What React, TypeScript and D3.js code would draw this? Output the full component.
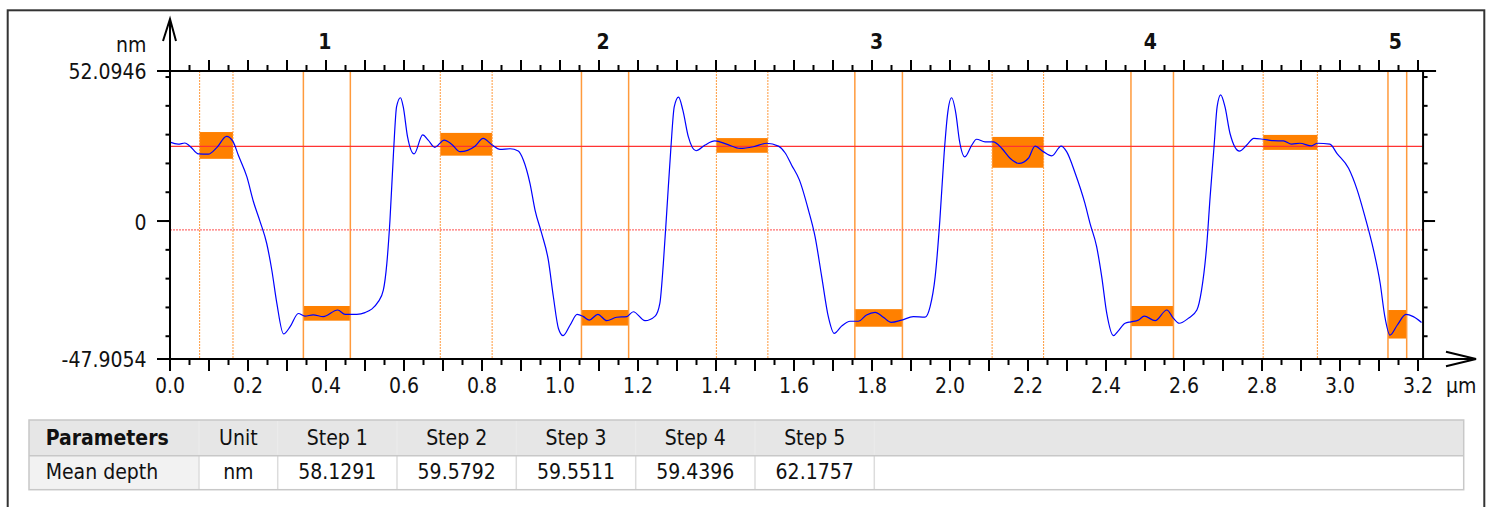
import React, { useEffect, useRef } from 'react';
import * as d3 from 'd3';

// profile (x in µm, height in nm)
const profileX = [
  0.000, 0.021, 0.038, 0.051, 0.073, 0.098, 0.120, 0.145, 0.162, 0.175, 0.197, 0.214, 0.231, 0.248, 0.261, 0.274,
  0.291, 0.308, 0.329, 0.346, 0.367, 0.393, 0.430, 0.449, 0.479, 0.500, 0.534, 0.547, 0.556, 0.564, 0.573, 0.581,
  0.591, 0.598, 0.609, 0.626, 0.648, 0.662, 0.679, 0.703, 0.722, 0.744, 0.782, 0.803, 0.826, 0.846, 0.872, 0.893,
  0.906, 0.923, 0.936, 0.953, 0.970, 0.983, 0.996, 1.008, 1.026, 1.044, 1.060, 1.075, 1.097, 1.120, 1.145, 1.171,
  1.188, 1.218, 1.244, 1.256, 1.265, 1.274, 1.284, 1.293, 1.304, 1.315, 1.329, 1.349, 1.372, 1.397, 1.427, 1.462,
  1.496, 1.530, 1.560, 1.577, 1.594, 1.614, 1.637, 1.654, 1.671, 1.688, 1.703, 1.722, 1.744, 1.765, 1.786, 1.808,
  1.829, 1.849, 1.876, 1.906, 1.936, 1.949, 1.962, 1.974, 1.985, 1.994, 2.004, 2.015, 2.024, 2.038, 2.056, 2.068,
  2.090, 2.111, 2.133, 2.154, 2.177, 2.201, 2.218, 2.239, 2.261, 2.285, 2.299, 2.321, 2.346, 2.359, 2.376, 2.389,
  2.402, 2.419, 2.431, 2.449, 2.464, 2.483, 2.498, 2.526, 2.556, 2.573, 2.588, 2.611, 2.633, 2.645, 2.658, 2.667,
  2.677, 2.685, 2.694, 2.705, 2.718, 2.742, 2.761, 2.779, 2.803, 2.829, 2.855, 2.876, 2.897, 2.927, 2.942, 2.974,
  2.992, 3.022, 3.044, 3.064, 3.085, 3.103, 3.115, 3.128, 3.147, 3.169, 3.188, 3.209,
];
const profileY = [
  27.4, 26.7, 27.1, 26.0, 23.3, 23.2, 25.5, 29.4, 27.5, 22.9, 15.4, 6.7, -0.2, -7.8, -17.0, -28.6,
  -39.2, -36.7, -32.1, -33.0, -32.6, -33.2, -30.9, -32.4, -32.4, -31.8, -28.0, -24.0, -14.7, 0.3, 23.5, 39.7,
  42.8, 39.7, 29.3, 23.3, 29.9, 28.1, 25.6, 28.1, 26.7, 24.1, 26.0, 28.7, 26.4, 24.9, 25.1, 24.3,
  21.2, 13.1, 3.8, -4.3, -13.5, -26.3, -37.3, -39.8, -36.1, -32.4, -33.2, -34.4, -32.4, -34.6, -33.4, -33.2,
  -31.5, -34.6, -33.0, -28.6, -14.7, 3.8, 24.7, 39.7, 43.0, 38.5, 29.3, 24.4, 26.4, 27.8, 26.7, 25.2,
  25.8, 27.0, 26.0, 23.7, 19.4, 14.2, 3.8, -5.4, -19.3, -33.2, -39.0, -36.5, -34.8, -34.8, -32.6, -31.7,
  -33.4, -35.2, -34.4, -33.2, -33.4, -29.7, -19.3, 0.3, 23.5, 37.4, 42.8, 37.4, 28.1, 22.3, 26.4, 28.4,
  27.5, 27.5, 25.2, 21.8, 20.0, 21.8, 26.0, 24.1, 22.6, 26.0, 24.1, 16.6, 6.1, -0.8, -8.9, -19.3,
  -32.1, -39.8, -38.2, -35.5, -35.0, -34.4, -33.0, -34.6, -30.9, -33.8, -35.5, -33.8, -30.9, -24.0, -8.9, 8.4,
  25.8, 39.7, 43.8, 39.7, 30.4, 24.3, 26.4, 28.7, 28.4, 27.9, 27.8, 26.7, 27.0, 26.1, 27.0, 26.7,
  23.5, 18.3, 10.8, 1.5, -9.5, -21.6, -33.2, -39.6, -36.1, -32.4, -33.2, -35.2,
];

// upper (plateau) and lower (trench) regions of each step
const plateauFrom = [0.076, 0.693, 1.401, 2.108, 2.803];
const plateauTo = [0.1615, 0.826, 1.533, 2.240, 2.942];
const plateauLow = [21.6, 22.7, 23.7, 18.5, 24.7];
const plateauHigh = [30.9, 30.6, 28.8, 29.2, 29.9];
const trenchFrom = [0.342, 1.055, 1.756, 2.464, 3.123];
const trenchTo = [0.4624, 1.176, 1.878, 2.573, 3.171];
const trenchLow = [-34.6, -36.3, -36.7, -36.5, -40.8];
const trenchHigh = [-29.5, -30.9, -30.6, -29.5, -30.9];
const stepNames = ['1', '2', '3', '4', '5'];

const refLevel = 25.9;
const midLevel = -3.1;
const yMin = -47.9054;
const yMax = 52.0946;
const profileLength = 3.213;
const xTickLabels = ['0.0', '0.2', '0.4', '0.6', '0.8', '1.0', '1.2', '1.4', '1.6', '1.8', '2.0', '2.2', '2.4', '2.6', '2.8', '3.0', '3.2'];

const tableHeaders = ['Parameters', 'Unit', 'Step 1', 'Step 2', 'Step 3', 'Step 4', 'Step 5'];
const meanDepthRow = ['Mean depth', 'nm', '58.1291', '59.5792', '59.5511', '59.4396', '62.1757'];

const FONT = '"DejaVu Sans Condensed", "Liberation Sans", Arial, sans-serif';
const ORANGE = '#ff8000';

const App: React.FC = () => {
  const svgRef = useRef<SVGSVGElement>(null);

  useEffect(() => {
    if (!svgRef.current) return;
    const svg = d3.select(svgRef.current);
    svg.selectAll('*').remove();

    const x = d3.scaleLinear().domain([0, 3.2]).range([170, 1418]);
    const y = d3.scaleLinear().domain([yMin, yMax]).range([359, 71]);
    const left = x(0);
    const right = x(profileLength);
    const top = y(yMax);
    const bottom = y(yMin);

    // outer frame
    svg.append('rect')
      .attr('x', 7.7).attr('y', 10.3)
      .attr('width', 1476.6).attr('height', 520)
      .attr('fill', 'white')
      .attr('stroke', '#333').attr('stroke-width', 2);

    const plot = svg.append('g');

    // step regions
    plateauFrom.forEach((x0, i) => {
      plot.append('rect')
        .attr('x', x(x0)).attr('y', y(plateauHigh[i]))
        .attr('width', x(plateauTo[i]) - x(x0))
        .attr('height', y(plateauLow[i]) - y(plateauHigh[i]))
        .attr('fill', ORANGE);
      plot.append('rect')
        .attr('x', x(trenchFrom[i])).attr('y', y(trenchHigh[i]))
        .attr('width', x(trenchTo[i]) - x(trenchFrom[i]))
        .attr('height', y(trenchLow[i]) - y(trenchHigh[i]))
        .attr('fill', ORANGE);
    });

    const vline = (v: number, dotted: boolean) =>
      plot.append('line')
        .attr('x1', x(v)).attr('x2', x(v))
        .attr('y1', top).attr('y2', bottom)
        .attr('stroke', '#ff9a3c')
        .attr('stroke-width', dotted ? 1 : 1.5)
        .attr('stroke-dasharray', dotted ? '2,1' : null);
    plateauFrom.forEach((v, i) => { vline(v, true); vline(plateauTo[i], true); });
    trenchFrom.forEach((v, i) => { vline(v, false); vline(trenchTo[i], false); });

    // reference levels
    plot.append('line')
      .attr('x1', left).attr('x2', right)
      .attr('y1', y(refLevel)).attr('y2', y(refLevel))
      .attr('stroke', '#ff3333').attr('stroke-width', 1.3);
    plot.append('line')
      .attr('x1', left).attr('x2', right)
      .attr('y1', y(midLevel)).attr('y2', y(midLevel))
      .attr('stroke', '#ff6f6f').attr('stroke-width', 1.2)
      .attr('stroke-dasharray', '2,1');

    // profile
    const line = d3.line<number>()
      .x((_, i) => x(profileX[i]))
      .y(d => y(d))
      .curve(d3.curveMonotoneX);
    plot.append('path')
      .attr('d', line(profileY))
      .attr('fill', 'none')
      .attr('stroke', '#0000ff')
      .attr('stroke-width', 1.2);

    // axes
    const axes = svg.append('g').attr('stroke', '#000').attr('stroke-width', 2).attr('fill', 'none');
    axes.append('line').attr('x1', left).attr('x2', left).attr('y1', bottom).attr('y2', 19);
    axes.append('path').attr('d', `M${left - 7},${41}L${left},${19}L${left + 6},${41}`);
    axes.append('line').attr('x1', 157).attr('x2', 1476).attr('y1', bottom).attr('y2', bottom);
    axes.append('path').attr('d', `M${1446},${351.7}L${1476},${bottom}L${1446},${366.3}`);
    axes.append('line').attr('x1', 157).attr('x2', right + 13).attr('y1', top).attr('y2', top);
    axes.append('line').attr('x1', right).attr('x2', right).attr('y1', top).attr('y2', bottom);

    const fineTicks = d3.range(0, 3.2001, 0.05);
    fineTicks.forEach((t, i) => {
      const major = i % 2 === 0;
      axes.append('line')
        .attr('x1', x(t)).attr('x2', x(t))
        .attr('y1', top).attr('y2', top - (major ? 11 : 6));
      axes.append('line')
        .attr('x1', x(t)).attr('x2', x(t))
        .attr('y1', bottom).attr('y2', bottom + (major ? 12 : 6));
    });

    y.ticks(10).filter(t => t >= -40 && t <= 50).forEach(t => {
      axes.append('line').attr('x1', left - 4.5).attr('x2', left).attr('y1', y(t)).attr('y2', y(t));
      axes.append('line').attr('x1', right).attr('x2', right + 4.5).attr('y1', y(t)).attr('y2', y(t));
    });
    axes.append('line').attr('x1', 157).attr('x2', left).attr('y1', y(0)).attr('y2', y(0));
    axes.append('line').attr('x1', right).attr('x2', right + 12).attr('y1', y(0)).attr('y2', y(0));

    // labels
    const txt = svg.append('g').attr('font-family', FONT).attr('font-size', 21).attr('fill', '#111');
    txt.append('text').attr('x', 146.5).attr('y', 52).attr('text-anchor', 'end').text('nm');
    txt.append('text').attr('x', 146.5).attr('y', 79).attr('text-anchor', 'end').text(yMax.toFixed(4));
    txt.append('text').attr('x', 146.5).attr('y', 229.5).attr('text-anchor', 'end').text('0');
    txt.append('text').attr('x', 146.5).attr('y', 367).attr('text-anchor', 'end').text(yMin.toFixed(4));

    xTickLabels.forEach(lbl => {
      txt.append('text')
        .attr('x', x(+lbl)).attr('y', 392.5)
        .attr('text-anchor', 'middle')
        .text(lbl);
    });
    txt.append('text').attr('x', 1446).attr('y', 392.5).text('µm');

    stepNames.forEach((s, i) => {
      txt.append('text')
        .attr('x', x((trenchFrom[i] + trenchTo[i]) / 2) - 2)
        .attr('y', 48.5)
        .attr('text-anchor', 'middle')
        .attr('font-weight', 'bold')
        .text(s);
    });

    // parameters table
    const cols = [29, 199, 277.7, 397, 516.3, 635.7, 755, 874.3, 1463.7];
    const tTop = 420;
    const tMid = 455.7;
    const tBot = 489.7;
    const table = svg.append('g');
    table.append('rect')
      .attr('x', cols[0]).attr('y', tTop)
      .attr('width', cols[cols.length - 1] - cols[0]).attr('height', tMid - tTop)
      .attr('fill', '#e6e6e6');
    table.append('rect')
      .attr('x', cols[0]).attr('y', tMid)
      .attr('width', cols[1] - cols[0]).attr('height', tBot - tMid)
      .attr('fill', '#f2f2f2');
    cols.slice(1, -1).forEach(c => {
      table.append('line')
        .attr('x1', c).attr('x2', c).attr('y1', tTop + 1).attr('y2', tMid - 1)
        .attr('stroke', '#ececec').attr('stroke-width', 1);
      table.append('line')
        .attr('x1', c).attr('x2', c).attr('y1', tMid).attr('y2', tBot)
        .attr('stroke', '#dcdcdc').attr('stroke-width', 1.5);
    });
    table.append('line')
      .attr('x1', cols[0]).attr('x2', cols[cols.length - 1]).attr('y1', tMid).attr('y2', tMid)
      .attr('stroke', '#c8c8c8').attr('stroke-width', 1.5);
    table.append('rect')
      .attr('x', cols[0]).attr('y', tTop)
      .attr('width', cols[cols.length - 1] - cols[0]).attr('height', tBot - tTop)
      .attr('fill', 'none')
      .attr('stroke', '#c8c8c8').attr('stroke-width', 1.5);

    const cellText = (row: string[], yc: number, header: boolean) => {
      row.forEach((s, i) => {
        table.append('text')
          .attr('x', i === 0 ? 45.7 : (cols[i] + cols[i + 1]) / 2)
          .attr('y', yc)
          .attr('dy', '0.36em')
          .attr('text-anchor', i === 0 ? 'start' : 'middle')
          .attr('font-family', FONT)
          .attr('font-size', 21)
          .attr('font-weight', header && i === 0 ? 'bold' : 'normal')
          .attr('fill', '#111')
          .text(s);
      });
    };
    cellText(tableHeaders, 437.5, true);
    cellText(meanDepthRow, 471.8, false);
  }, []);

  return (
    <div style={{ position: 'absolute', left: 0, top: 0 }}>
      <svg ref={svgRef} width={1487} height={507} viewBox="0 0 1487 507" style={{ display: 'block' }} />
    </div>
  );
};

export default App;
